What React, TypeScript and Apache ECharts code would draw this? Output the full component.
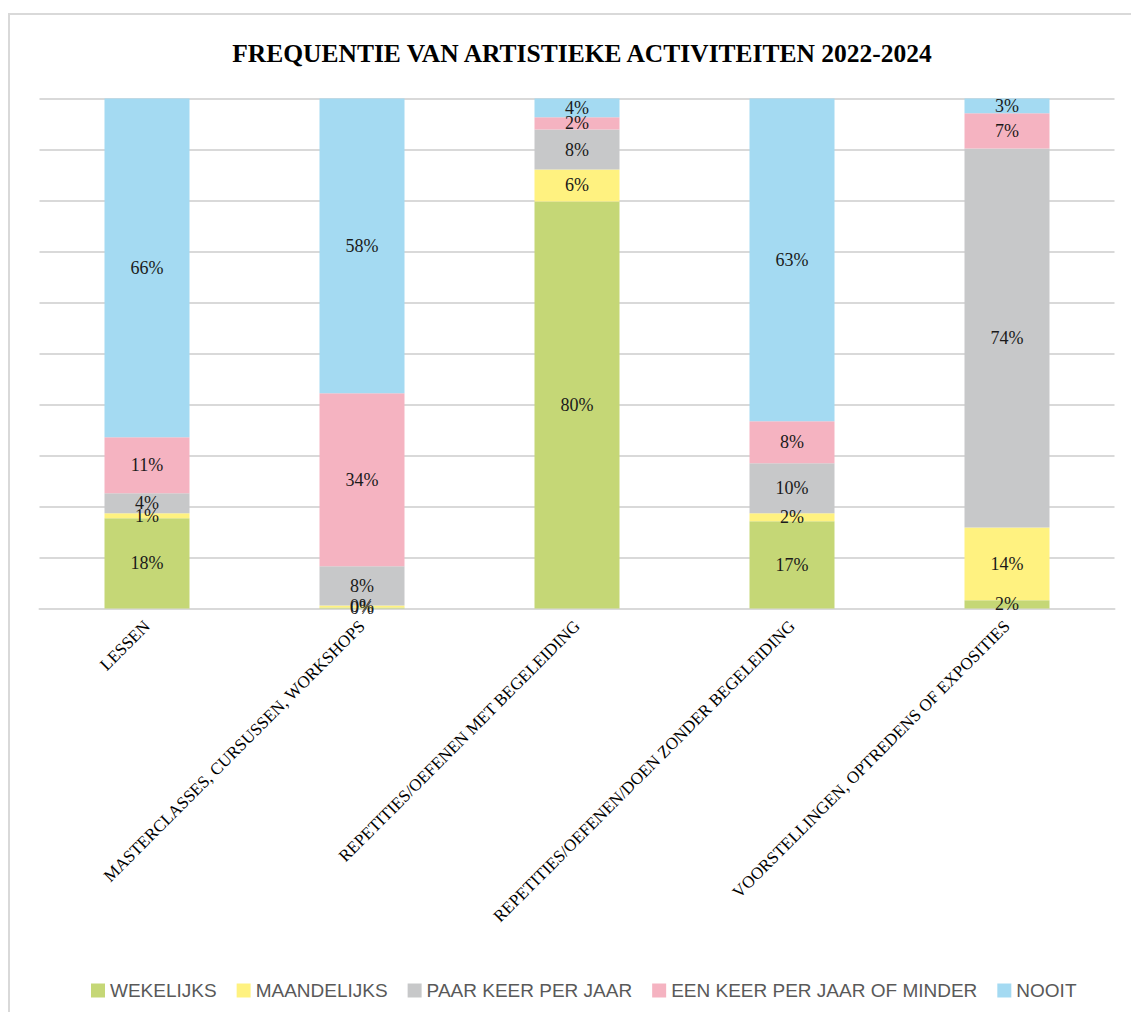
import React, { useEffect, useRef } from "react";
import * as echarts from "echarts";

const categories = [
  "LESSEN",
  "MASTERCLASSES, CURSUSSEN, WORKSHOPS",
  "REPETITIES/OEFENEN MET BEGELEIDING",
  "REPETITIES/OEFENEN/DOEN ZONDER BEGELEIDING",
  "VOORSTELLINGEN, OPTREDENS OF EXPOSITIES",
];

const seriesNames = [
  "WEKELIJKS",
  "MAANDELIJKS",
  "PAAR KEER PER JAAR",
  "EEN KEER PER JAAR OF MINDER",
  "NOOIT",
];

const wekelijks = [17.7, 0.2, 79.8, 17.1, 1.6];
const maandelijks = [1.0, 0.4, 6.3, 1.6, 14.3];
const paarKeer = [3.9, 7.7, 7.8, 9.8, 74.3];
const eenKeer = [11.0, 33.9, 2.4, 8.2, 6.9];
const nooit = [66.4, 57.8, 3.7, 63.3, 2.9];

const seriesValues = [wekelijks, maandelijks, paarKeer, eenKeer, nooit];
const colors = ["#c5d776", "#fff280", "#c7c8c9", "#f5b3c1", "#a4daf2"];

const yTicks = [0, 10, 20, 30, 40, 50, 60, 70, 80, 90, 100];

export default function App() {
  const ref = useRef<HTMLDivElement>(null);
  useEffect(() => {
    if (!ref.current) return;
    const chart = echarts.init(ref.current, null, { renderer: "svg" });
    chart.setOption({
      animation: false,
      backgroundColor: "#ffffff",
      title: {
        text: "FREQUENTIE VAN ARTISTIEKE ACTIVITEITEN 2022-2024",
        left: 577,
        top: 35,
        textAlign: "center",
        textStyle: {
          fontFamily: "Liberation Serif",
          fontWeight: "bold",
          fontSize: 25.5,
          color: "#000000",
        },
      },
      graphic: [
        {
          type: "rect",
          shape: { x: 9, y: 14, width: 1300, height: 1200 },
          style: { fill: "none", stroke: "#d9d9d9", lineWidth: 2 },
          silent: true,
          z: -1,
        },
      ],
      legend: {
        data: seriesNames,
        left: 86,
        top: 976,
        icon: "rect",
        itemWidth: 14,
        itemHeight: 14,
        itemGap: 20,
        textStyle: {
          fontFamily: "Liberation Sans, sans-serif",
          fontSize: 19,
          color: "#595959",
        },
      },
      grid: {
        left: 39.5,
        right: 16.5,
        top: 98.5,
        bottom: 403.5,
        containLabel: false,
      },
      xAxis: {
        type: "category",
        data: categories,
        axisLine: { show: true, lineStyle: { color: "#d9d9d9", width: 2 } },
        axisTick: { show: false },
        axisLabel: {
          rotate: 45,
          interval: 0,
          margin: 15,
          fontFamily: "Liberation Serif",
          fontSize: 17,
          color: "#000000",
        },
      },
      yAxis: {
        type: "value",
        min: yTicks[0],
        max: yTicks[yTicks.length - 1],
        interval: 10,
        axisLabel: { show: false },
        axisLine: { show: false },
        axisTick: { show: false },
        splitLine: { show: true, lineStyle: { color: "#d9d9d9", width: 2 } },
      },
      series: seriesNames.map((name, i) => ({
        name,
        type: "bar",
        stack: "total",
        barWidth: 85,
        data: seriesValues[i],
        itemStyle: { color: colors[i] },
        label: {
          show: true,
          position: "inside",
          formatter: (p: any) => Math.round(p.value) + "%",
          fontFamily: "Liberation Serif",
          fontSize: 18,
          color: "#1a1a1a",
        },
      })),
    });
    return () => chart.dispose();
  }, []);
  return (
    <div
      ref={ref}
      style={{ position: "fixed", left: 0, top: 0, width: 1131, height: 1012 }}
    />
  );
}
